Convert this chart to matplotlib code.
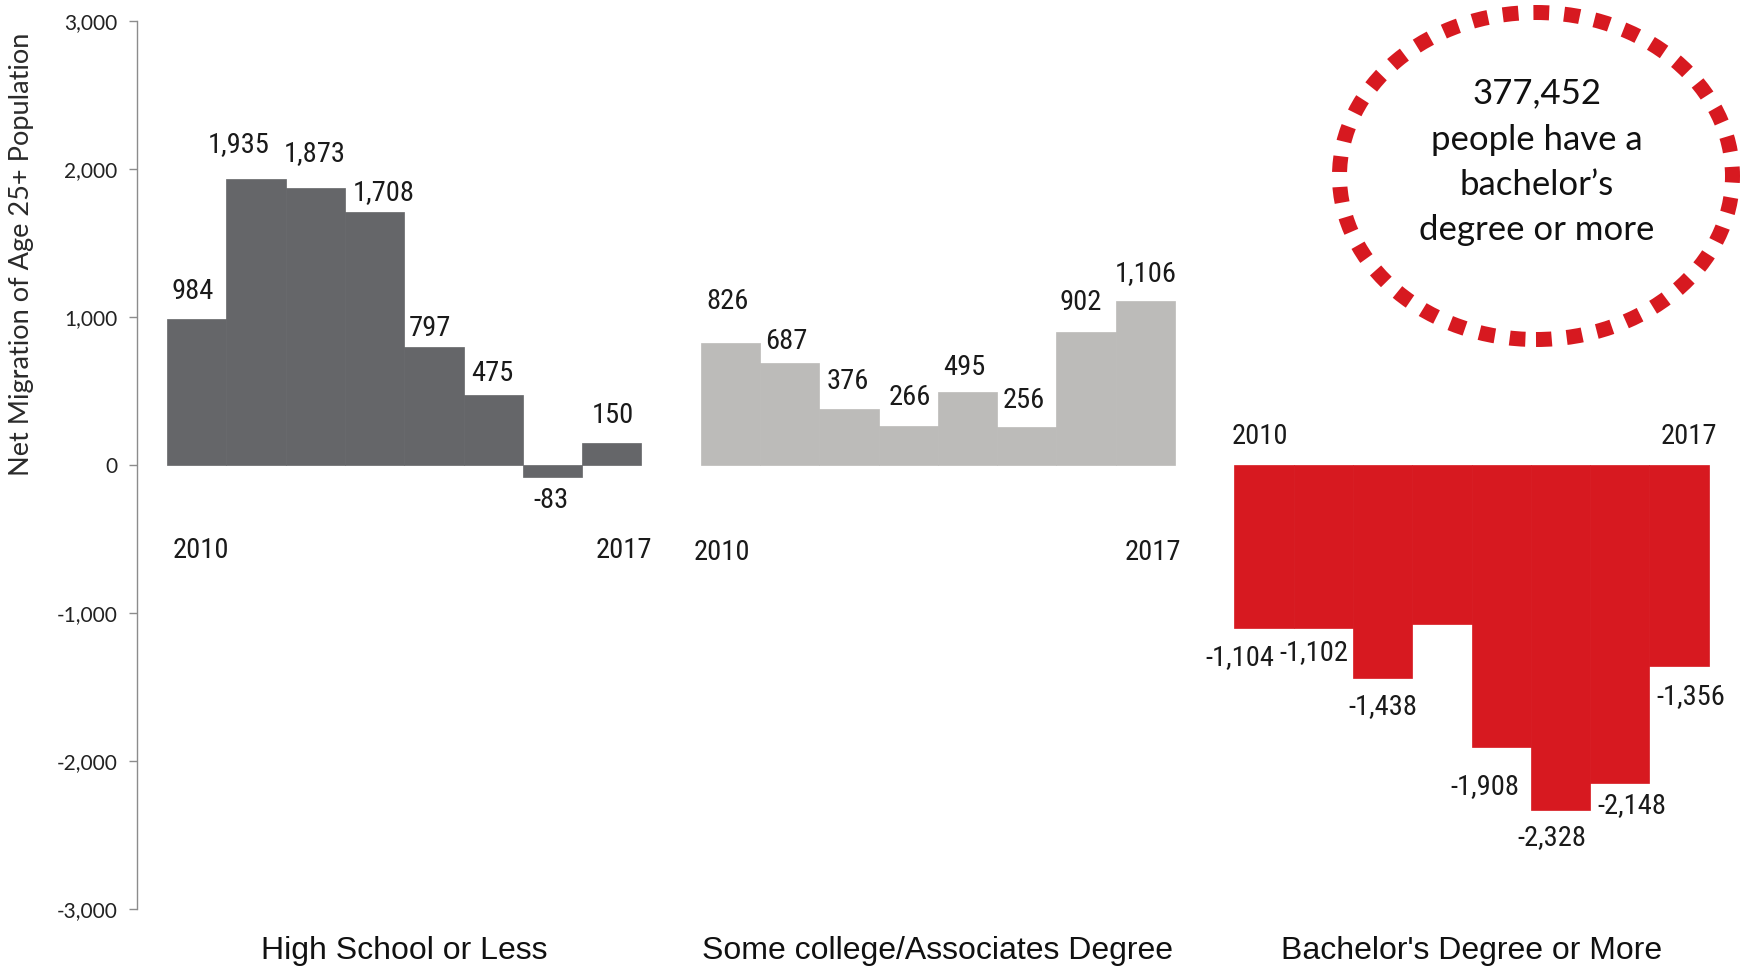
import matplotlib.pyplot as plt
from matplotlib import font_manager
from matplotlib.patches import Ellipse

# Data
years = ["2010", "2011", "2012", "2013", "2014", "2015", "2016", "2017"]
high_school = [984, 1935, 1873, 1708, 797, 475, -83, 150]
some_college = [826, 687, 376, 266, 495, 256, 902, 1106]
bachelors = [-1104, -1102, -1438, -1075, -1908, -2328, -2148, -1356]
bachelors_shown = [True, True, True, False, True, True, True, True]  # 2013 has no label
group_names = ["High School or Less", "Some college/Associates Degree", "Bachelor's Degree or More"]
yticks = [-3000, -2000, -1000, 0, 1000, 2000, 3000]
callout_lines = ["377,452", "people have a", "bachelor\u2019s", "degree or more"]

# Layout / style (not data)
dark_grey = "#656669"
light_grey = "#bcbbb9"
red = "#d71920"

# pick a narrow font for the value labels, if there is one
installed = {(f.name, f.stretch) for f in font_manager.fontManager.ttflist}
names = {n for n, s in installed}
label_kw = {"family": ["Liberation Sans", "DejaVu Sans"], "fontsize": 18}
for cand in ["Liberation Sans Narrow", "Roboto Condensed", "Open Sans Condensed", "Arial Narrow"]:
    if cand in names:
        label_kw = {"family": [cand, "DejaVu Sans"], "fontsize": 20.5}
        break
else:
    for n, s in installed:
        if n == "DejaVu Sans" and s == "condensed":
            label_kw = {"family": ["DejaVu Sans"], "fontstretch": "condensed", "fontsize": 17}
            break

group_start = [0, 9, 18]
bar_w = 1.0
# label nudges in pixels (dx, dy) relative to bar centre / bar end
hs_nudge = [(-3.5, 27.5), (-17, 34), (-1, 34), (9, 20), (-4, 19), (-1, 21), (-1, -23), (1, 27)]
col_nudge = [(-3, 41), (-3.5, 21.5), (-1, 27.5), (1.5, 28), (-3, 24.5), (-3.5, 26.5), (-5.5, 29), (0, 28)]
ba_nudge = [(-24.5, -29), (-9, -24), (0, -29), (0, 0), (-16, -39), (-9, -27.5), (12.5, -23), (12, -31)]
year_nudge = [[(4, -86), (12, -86)], [(-8.5, -87), (7.5, -87)], [(-4, 28), (9.5, 28)]]

fig = plt.figure(figsize=(17.42, 9.66), dpi=100)
ax = fig.add_axes([137 / 1742, 57 / 966, (1742 - 137) / 1742, 888 / 966])

series = [high_school, some_college, bachelors]
colors = [dark_grey, light_grey, red]
nudges = [hs_nudge, col_nudge, ba_nudge]
shown = [[True] * 8, [True] * 8, bachelors_shown]

for g in range(3):
    xs = [group_start[g] + i * bar_w for i in range(len(years))]
    ax.bar(xs, series[g], width=bar_w, align="edge", color=colors[g],
           edgecolor=colors[g], linewidth=0.5)
    for i, v in enumerate(series[g]):
        if not shown[g][i]:
            continue
        dx, dy = nudges[g][i]
        ax.annotate(f"{v:,}", xy=(xs[i] + bar_w / 2, v), xytext=(dx, dy),
                    textcoords="offset pixels", ha="center", va="center",
                    color="#1a1a1a", **label_kw)
    # first and last year
    for k, i in enumerate([0, len(years) - 1]):
        dx, dy = year_nudge[g][k]
        ax.annotate(years[i], xy=(xs[i] + bar_w / 2, 0), xytext=(dx, dy),
                    textcoords="offset pixels", ha="center", va="center",
                    color="#1a1a1a", **label_kw)
    # group name under the axis
    ax.annotate(group_names[g], xy=(group_start[g] + 4 * bar_w, -3000), xytext=(0, -42),
                textcoords="offset pixels", ha="center", va="center",
                fontsize=23, family=["Liberation Sans", "DejaVu Sans"], color="#111111")

ax.set_xlim(-0.506, 26.56)
ax.set_ylim(-3000, 3000)
ax.set_yticks(yticks)
ax.set_yticklabels([f"{t:,}" for t in yticks], family=["Lato", "DejaVu Sans"], fontsize=15)
ax.set_xticks([])
for s in ["top", "right", "bottom"]:
    ax.spines[s].set_visible(False)
ax.spines["left"].set_color("#8c8c8c")
ax.spines["left"].set_linewidth(1.0)
ax.tick_params(axis="y", length=6, width=1.0, color="#8c8c8c", pad=8, labelcolor="#222222")
ax.patch.set_alpha(0)

fig.text(22 / 1742, 1 - 254 / 966, "Net Migration of Age 25+ Population", rotation=90,
         ha="center", va="center", fontsize=19.5, family=["Lato", "DejaVu Sans"],
         color="#2a2a2a")

# dotted red callout
ell = Ellipse((15.36, 7.90), 3.93, 3.27, transform=fig.dpi_scale_trans, fill=False,
              edgecolor=red, linewidth=10.8, linestyle=(0, (1.05, 1.0)))
ell.set_capstyle("butt")
fig.add_artist(ell)
line_y = [93, 140, 185, 230]
for txt, y in zip(callout_lines, line_y):
    fig.text(1537 / 1742, 1 - y / 966, txt, ha="center", va="center",
             fontsize=25, family=["Lato", "DejaVu Sans"], color="#111111")

fig.savefig("out.png", dpi=100)
